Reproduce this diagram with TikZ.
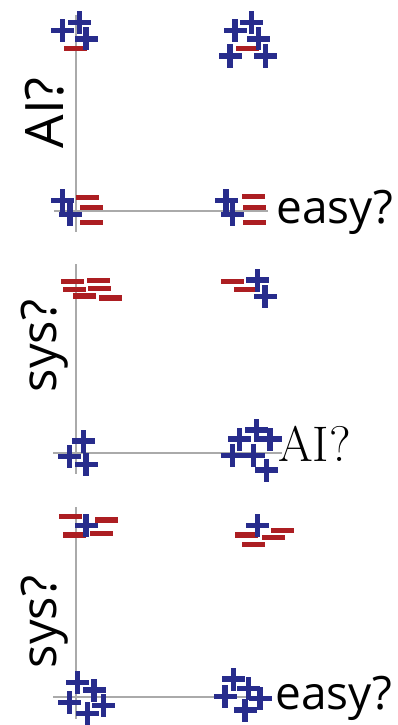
\documentclass[tikz,border=0pt]{standalone}
\usepackage{fontspec}
\setmainfont{Open Sans}
\newfontfamily\serifface{Latin Modern Roman}
\definecolor{plusblue}{RGB}{40,44,140}
\definecolor{minusred}{RGB}{172,30,34}
\definecolor{axisgray}{RGB}{170,170,170}
\newcommand\plusmk[2]{\fill[plusblue] ({#1-11.5},{#2-2.7}) rectangle ({#1+11.5},{#2+2.7});
  \fill[plusblue] ({#1-2.7},{#2-11.5}) rectangle ({#1+2.7},{#2+11.5});}
\newcommand\minusmk[2]{\fill[minusred] ({#1-11.5},{#2-2.7}) rectangle ({#1+11.5},{#2+2.7});}
\tikzset{
  axisline/.style={draw=axisgray, line width=2.4pt},
  lbl/.style={font=\fontsize{49}{52}\selectfont, inner sep=0pt, text=black},
  easylbl/.style={font=\fontsize{46}{50}\selectfont, inner sep=0pt, text=black, anchor=base west},
}
\begin{document}
\begin{tikzpicture}[x=1pt,y=-1pt]
\useasboundingbox (0,0) rectangle (397,725);
% panel 1 axes
\coordinate (a1t) at (76,15);
\coordinate (a1b) at (76,232);
\coordinate (a1l) at (54,211);
\coordinate (a1r) at (268,211);
\draw[axisline] (a1t) -- (a1b);
\draw[axisline] (a1l) -- (a1r);
% panel 2 axes
\coordinate (a2t) at (76,264);
\coordinate (a2b) at (76,474);
\coordinate (a2l) at (53,453);
\coordinate (a2r) at (282,453);
\draw[axisline] (a2t) -- (a2b);
\draw[axisline] (a2l) -- (a2r);
% panel 3 axes
\coordinate (a3t) at (76,507);
\coordinate (a3b) at (76,719);
\coordinate (a3l) at (53,697);
\coordinate (a3r) at (268,697);
\draw[axisline] (a3t) -- (a3b);
\draw[axisline] (a3l) -- (a3r);
% labels
\node[lbl, rotate=90, font=\fontsize{53}{56}\selectfont] (l1) at (45,113) {AI?};
\node[easylbl] (l2) at (276,223) {easy?};
\node[lbl, rotate=90] (l3) at (45,346) {sys?};
\node[lbl, anchor=base west, font=\fontsize{50}{54}\serifface] (l4) at (278,461) {AI?};
\node[lbl, rotate=90] (l5) at (45,622) {sys?};
\node[easylbl] (l6) at (275,709) {easy?};
% panel 1 marks
\minusmk{75}{48.3}
\plusmk{62.7}{30.7}
\plusmk{79.3}{22.3}
\plusmk{86}{39}
\minusmk{247}{48.3}
\plusmk{251.7}{22.3}
\plusmk{235}{30.7}
\plusmk{258.3}{39}
\plusmk{230}{56}
\plusmk{265.7}{56}
\minusmk{87.3}{197.3}
\minusmk{91}{207.7}
\minusmk{91.7}{222.3}
\plusmk{62.7}{200.7}
\plusmk{70}{214.3}
\minusmk{253.3}{196.7}
\minusmk{254}{207.7}
\minusmk{254}{222.3}
\plusmk{226}{200.7}
\plusmk{232.3}{214.3}
% panel 2 marks
\minusmk{72.2}{281.3}
\minusmk{98.7}{280.3}
\minusmk{74.3}{289.7}
\minusmk{99.5}{288.3}
\minusmk{84.5}{296}
\minusmk{110.2}{298}
\minusmk{232.2}{281.7}
\minusmk{245.8}{289.3}
\plusmk{257.3}{280}
\plusmk{265}{296.7}
\plusmk{83.3}{441}
\plusmk{69.3}{456.7}
\plusmk{86}{464.3}
\plusmk{256.7}{430}
\plusmk{239.3}{439}
\plusmk{270}{439}
\plusmk{232.3}{455.7}
\plusmk{253.3}{455.7}
\plusmk{266.7}{470}
% panel 3 marks
\minusmk{70}{516.7}
\minusmk{106.2}{520}
\minusmk{74.3}{535}
\minusmk{101.8}{533.3}
\plusmk{86}{525.7}
\minusmk{282}{530.3}
\minusmk{246.7}{535}
\minusmk{273.7}{537.3}
\minusmk{253.3}{544.7}
\plusmk{257.7}{525.7}
\plusmk{77.7}{682.3}
\plusmk{94}{690}
\plusmk{69.3}{702.3}
\plusmk{103.3}{705.7}
\plusmk{87.7}{713.3}
\plusmk{233.3}{679}
\plusmk{248.3}{688.3}
\plusmk{225}{696.7}
\plusmk{260}{698.3}
\plusmk{245}{710}
\end{tikzpicture}
\end{document}
